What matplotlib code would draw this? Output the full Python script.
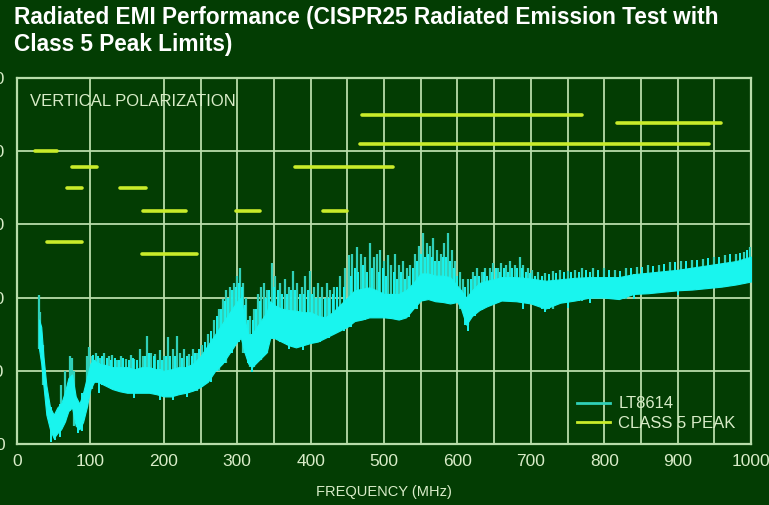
import matplotlib
matplotlib.use("Agg")
import matplotlib.pyplot as plt
from matplotlib.lines import Line2D

plt.rcParams['font.family'] = ['Liberation Sans Narrow', 'Liberation Sans', 'DejaVu Sans']

# ---------------- data ----------------
title = "Radiated EMI Performance (CISPR25 Radiated Emission Test with\nClass 5 Peak Limits)"
x_ticks = [0, 100, 200, 300, 400, 500, 600, 700, 800, 900, 1000]
y_ticks = [0, 10, 20, 30, 40, 50]
x_grid = [100, 200, 250, 300, 350, 400, 450, 500, 550, 600, 650, 700, 750, 800, 850, 900, 950]

# dense core of the LT8614 trace (dBuV/m)
core_f = [30, 33, 36, 40, 45, 50, 55, 60, 65, 70, 75, 80, 85, 90, 95, 100, 105, 110,
          120, 130, 140, 150, 160, 170, 180, 190, 200, 210, 220, 230, 240, 250, 260,
          270, 280, 290, 300, 305, 310, 315, 320, 330, 340, 345, 350, 360, 370, 380,
          390, 400, 410, 420, 430, 440, 450, 460, 470, 480, 490, 500, 510, 520, 530,
          540, 550, 560, 570, 580, 590, 600, 605, 612, 620, 630, 640, 650, 660, 680,
          700, 720, 740, 760, 780, 800, 820, 840, 860, 880, 900, 920, 940, 960, 980, 1000]
core_hi = [17, 16, 12, 8, 5, 4, 5, 5.5, 7, 9, 9.5, 6.5, 5.5, 7, 9, 11, 11.5, 11,
           10.8, 10.5, 10.5, 10.5, 10.2, 10.5, 10.5, 10.2, 10, 10.2, 10.5, 10.5, 11, 12, 13.5,
           15, 16.5, 18, 19.5, 20, 17, 15, 15, 16.5, 18, 19.5, 19, 18.5, 18.3, 18.2,
           18, 18, 17.5, 17.3, 18, 19, 20, 21, 21.2, 21.4, 21, 20.5, 20.5, 20.5, 21,
           22, 23.3, 23.3, 23, 23, 22.8, 21.6, 21, 20, 21, 22, 22.3, 22.5, 22.8, 22.8,
           22.6, 22.3, 22.5, 22.7, 22.8, 22.8, 22.8, 23.2, 23.4, 23.6, 23.8, 24.1, 24.4, 24.7, 25, 25.6]
core_lo = [13, 11, 8, 4, 2, 0.8, 1.5, 2, 3, 4.5, 5, 2.5, 2, 3, 5, 7.5, 8.5, 8.5,
           8, 7.5, 7.2, 7, 7, 7, 7, 6.8, 6.5, 6.5, 6.8, 7, 7.3, 7.8, 8.5,
           10, 11, 12.5, 14, 14.5, 12.5, 11, 10.5, 11.5, 12.5, 14.5, 14.5, 14, 13.5, 13.2,
           13.5, 13.8, 14, 14.5, 15, 15.5, 16, 16.8, 17, 17.3, 17.3, 17.3, 17.2, 17, 17.3,
           18.5, 19.6, 19.8, 19.5, 19.4, 19.2, 19.4, 18.5, 16.3, 17.5, 18.3, 18.8, 19.2, 19.6, 19.5,
           19.2, 18.5, 19.3, 19.6, 20, 20, 19.8, 20.5, 20.6, 20.8, 21, 21.1, 21.3, 21.5, 21.8, 22.2]

# tall spikes above the dense core
spike_f = [30, 31, 35, 60, 66, 72, 75, 78, 95, 98, 102, 108, 113, 118, 125, 130, 136, 142,
           148, 155, 160, 168, 172, 177, 183, 188, 195, 200, 206, 212, 218, 222, 228, 235,
           240, 245, 252, 260, 268, 275, 280, 285, 290, 296, 300, 304, 308, 312, 318, 323,
           328, 333, 336, 341, 347, 352, 358, 365, 370, 376, 382, 388, 393, 399, 405, 410,
           416, 422, 427, 432, 440, 447, 452, 457, 463, 468, 474, 481, 486, 490, 495, 500,
           506, 510, 515, 520, 526, 531, 536, 542, 548, 553, 558, 562, 567, 572, 577, 582,
           587, 592, 597, 603, 608, 615, 621, 627, 633, 638, 644, 649, 655, 660, 666, 672,
           678, 685, 690, 696, 702, 710, 720, 730, 740, 750, 760, 770, 785, 800, 815, 830,
           845, 860, 875, 890, 905, 920, 935, 950, 965, 980, 990, 998]
spike_v = [20.3, 18, 13.5, 8, 10, 12, 11.8, 10, 12, 13.2, 12, 12.4, 11.8, 12.5, 12, 12.2, 11.5, 12,
           11.6, 12.2, 11.6, 13, 12, 14.8, 12.5, 12.3, 12.8, 12, 14.6, 13, 14.8, 12.5, 13, 12.3,
           13, 12.5, 13.5, 15, 17, 18.5, 19.8, 21, 21.4, 22, 23, 24.1, 22, 20, 17.5, 18.5,
           20.5, 21.5, 22, 21, 24.7, 23, 22, 22.5, 21.5, 23.7, 22, 21.5, 23, 23.7, 21.5, 22,
           21.5, 22, 21, 21.5, 23, 24, 25.8, 26, 26.9, 26, 25.5, 27.4, 25.5, 26, 26.5, 25,
           25.8, 24.5, 26, 24.5, 25, 24, 24.5, 26, 27, 28.8, 27.5, 27, 28.2, 26.5, 26, 27.5,
           28.8, 26.5, 25, 23.5, 22.5, 22.5, 23.5, 24, 23.5, 24, 24, 24.7, 24, 24.7, 24.5, 25,
           24.5, 25.5, 24.5, 24, 23.8, 23.5, 23.4, 23.6, 23.8, 23.6, 23.8, 24, 24.1, 24, 23.8, 24,
           24.2, 24.5, 24.5, 24.8, 25, 25.2, 25.3, 25.6, 25.8, 26, 26.2, 26.9]

# short fuzz spikes just above the core
fuzz_f = [104, 111, 116, 122, 128, 133, 139, 145, 152, 158, 164, 175, 180, 186, 192, 198,
          203, 209, 215, 225, 231, 238, 243, 248, 256, 264, 272, 278, 283, 288, 293, 298,
          302, 306, 310, 315, 321, 326, 331, 339, 344, 350, 355, 361, 368, 373, 379, 385,
          391, 396, 402, 408, 413, 419, 425, 430, 436, 445, 455, 460, 465, 471, 477, 484,
          493, 498, 503, 513, 518, 523, 528, 534, 539, 545, 551, 556, 560, 565, 570, 575,
          580, 585, 590, 595, 600, 611, 618, 624, 630, 636, 641, 647, 652, 658, 663, 669,
          675, 681, 688, 693, 699, 706, 715, 725, 735, 745, 755, 765, 775, 780, 792, 807,
          822, 837, 852, 867, 882, 897, 912, 927, 942, 957, 972, 985, 995]
fuzz_v = [12.2, 12, 12, 11.8, 11.5, 11.8, 11.5, 11.8, 11.5, 11.8, 11.5, 12, 12.5, 12, 11.5, 11.5,
          12, 12, 12, 11.8, 12, 12, 12.5, 13, 14, 15.5, 17.5, 18.5, 19.5, 20, 21, 21.5,
          22, 21.5, 19, 17, 17, 18.5, 19.5, 20, 21, 21.5, 21, 20.5, 20.5, 21, 21, 20.5,
          20.5, 21, 20.5, 20, 20, 20, 20, 20.5, 21.5, 21.5, 23, 24, 23.5, 24.5, 23.5, 24,
          23.5, 24, 23, 23.5, 22.5, 23.5, 22.5, 23, 24, 25, 26, 25.5, 26, 25.5, 25, 25,
          25.5, 25.5, 25, 24, 23, 21.5, 22.5, 23, 23, 23.5, 23, 23.5, 24, 23.5, 24, 23.5,
          24, 24, 24, 23.5, 23.3, 23, 23, 23.2, 23.3, 23.5, 23.5, 23.5, 23.8, 23.5, 23.8, 23.8,
          23.6, 24, 24.2, 24.3, 24.6, 24.8, 25, 25.2, 25.4, 25.6, 25.9, 26.1, 26.5]

# dips below the core
dip_f = [47, 52, 58, 83, 88, 112, 160, 195, 212, 232, 320, 370, 390, 615, 690, 720, 750, 780, 840, 900]
dip_v = [0.3, 0.5, 1.0, 1.5, 1.8, 7.0, 6.3, 6.0, 6.0, 6.4, 9.8, 13.0, 12.8, 15.5, 18.5, 18.0, 18.6, 19.2, 19.8, 20.4]

# CISPR25 class 5 peak limit segments: start MHz, stop MHz, level dBuV/m
lim_start = [25, 75, 68, 140, 172, 298, 417, 41, 170, 379, 467, 470, 817]
lim_stop = [54, 109, 88, 176, 230, 331, 450, 88, 245, 512, 943, 770, 959]
lim_level = [40, 37.8, 35, 35, 31.8, 31.8, 31.8, 27.6, 26, 37.8, 41, 44.9, 43.9]

# ---------------- style ----------------
BG = '#033d03'
GRID = '#b8dcaa'
TXT = '#d8ecc8'
CYAN = '#19f5ee'
TEAL = '#30d0b8'
LIME = '#c9ec2a'


def nearest(arr_f, arr_v, f):
    i = min(range(len(arr_f)), key=lambda k: abs(arr_f[k] - f))
    return arr_v[i]


fig = plt.figure(figsize=(7.69, 5.05), dpi=100, facecolor=BG)
ax = fig.add_axes([17 / 769, 61 / 505, 734 / 769, 366 / 505], facecolor=BG)

ax.set_xlim(0, 1000)
ax.set_ylim(0, 50)
ax.set_xticks(x_ticks)
ax.set_yticks(y_ticks)
ax.tick_params(length=0, colors=TXT, labelsize=12.5)
ax.tick_params(axis='x', pad=7)
ax.tick_params(axis='y', pad=9)
for s in ax.spines.values():
    s.set_color(GRID)
    s.set_linewidth(1.6)

for g in x_grid:
    ax.axvline(g, color=GRID, lw=1.3, zorder=1)
for g in y_ticks[1:-1]:
    ax.axhline(g, color=GRID, lw=1.3, zorder=1)

# trace
spike_base = [nearest(core_f, core_lo, f) for f in spike_f]
ax.vlines(spike_f, spike_base, spike_v, color=TEAL, lw=1.6, zorder=3)
fuzz_base = [nearest(core_f, core_lo, f) for f in fuzz_f]
ax.vlines(fuzz_f, fuzz_base, fuzz_v, color=CYAN, lw=1.4, zorder=3)
dip_top = [nearest(core_f, core_hi, f) for f in dip_f]
ax.vlines(dip_f, dip_v, dip_top, color=CYAN, lw=1.4, zorder=3)
ax.fill_between(core_f, core_lo, core_hi, color=CYAN, lw=0.8, edgecolor=CYAN, zorder=4)

# limits
ax.hlines(lim_level, lim_start, lim_stop, color=LIME, lw=2.6, zorder=5, capstyle='round')

ax.text(0.018, 0.935, "VERTICAL POLARIZATION", transform=ax.transAxes, color=TXT,
        fontsize=12, va='center', ha='left')

handles = [Line2D([], [], color=TEAL, lw=2), Line2D([], [], color=LIME, lw=2)]
leg = ax.legend(handles, ["LT8614", "CLASS 5 PEAK"], loc='lower right', frameon=False,
                fontsize=12, labelcolor=TXT, handlelength=2.0, handletextpad=0.5,
                borderaxespad=0.3, labelspacing=0.25, bbox_to_anchor=(0.995, 0.005))

fig.text(384 / 769, 1 - 492 / 505, "FREQUENCY (MHz)", color=TXT, fontsize=10.5,
         ha='center', va='center')
fig.text(14 / 769, 1 - 6 / 505, title, color='white', fontsize=16.3, fontweight='bold',
         ha='left', va='top', linespacing=1.2)

fig.savefig("out.png", dpi=100, facecolor=BG)
